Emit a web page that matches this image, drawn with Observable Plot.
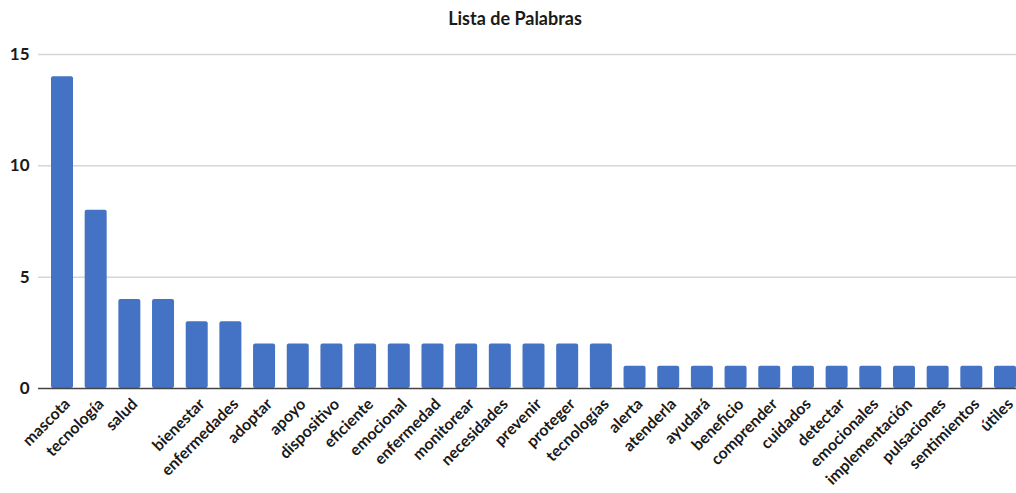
<!DOCTYPE html>
<html>
<head>
<meta charset="utf-8">
<script src="https://cdn.jsdelivr.net/npm/d3@7"></script>
<script src="https://cdn.jsdelivr.net/npm/@observablehq/plot@0.6"></script>
<style>
  html, body { margin: 0; padding: 0; background: #fff; }
  #title { height: 36px; line-height: 36px; text-align: center; padding-left: 14px; font-family: Lato, "Open Sans", sans-serif; font-weight: bold; font-size: 18px; color: #1a1a1a; }
  svg { display: block; }
</style>
</head>
<body>
<div id="title">Lista de Palabras</div>
<div id="chart"></div>
<script>
const words = ["mascota","tecnología","salud"," ","bienestar","enfermedades","adoptar","apoyo","dispositivo","eficiente","emocional","enfermedad","monitorear","necesidades","prevenir","proteger","tecnologías","alerta","atenderla","ayudará","beneficio","comprender","cuidados","detectar","emocionales","implementación","pulsaciones","sentimientos","útiles"];
const counts = [14,8,4,4,3,3,2,2,2,2,2,2,2,2,2,2,2,1,1,1,1,1,1,1,1,1,1,1,1];
const yTicks = [0,5,10,15];
const data = words.map((w, i) => ({word: w, count: counts[i]}));

const chart = Plot.plot({
  width: 1016,
  height: 457,
  marginTop: 18,
  marginBottom: 105,
  marginLeft: 38,
  marginRight: -13,
  style: {fontFamily: "Lato, 'Open Sans', sans-serif", fontWeight: "bold", color: "#1a1a1a", background: "#fff", overflow: "hidden"},
  x: {domain: words, paddingInner: 0.347, paddingOuter: 0.386, round: false, axis: null},
  y: {domain: [0, 15], ticks: yTicks, grid: false, label: null, axis: null},
  marks: [
    Plot.ruleY(yTicks.filter(d => d > 0), {stroke: "#d6d6d6", strokeWidth: 1.5, insetRight: 13}),
    Plot.barY(data, {x: "word", y: "count", fill: "#4472C4", rx: 2}),
    Plot.ruleY([0], {stroke: "#444", strokeWidth: 1.6, insetRight: 13}),
    Plot.text(yTicks, {y: d => d, text: d => String(d), frameAnchor: "left", textAnchor: "end", dx: -9, fontSize: 17, fontWeight: "bold", fill: "#1a1a1a"}),
    Plot.text(data, {x: "word", y: 0, text: "word", rotate: -45, textAnchor: "end", dx: 5, dy: 13, fontSize: 16, fontWeight: "bold", fill: "#1a1a1a"})
  ]
});
document.getElementById("chart").appendChild(chart);
</script>
</body>
</html>
